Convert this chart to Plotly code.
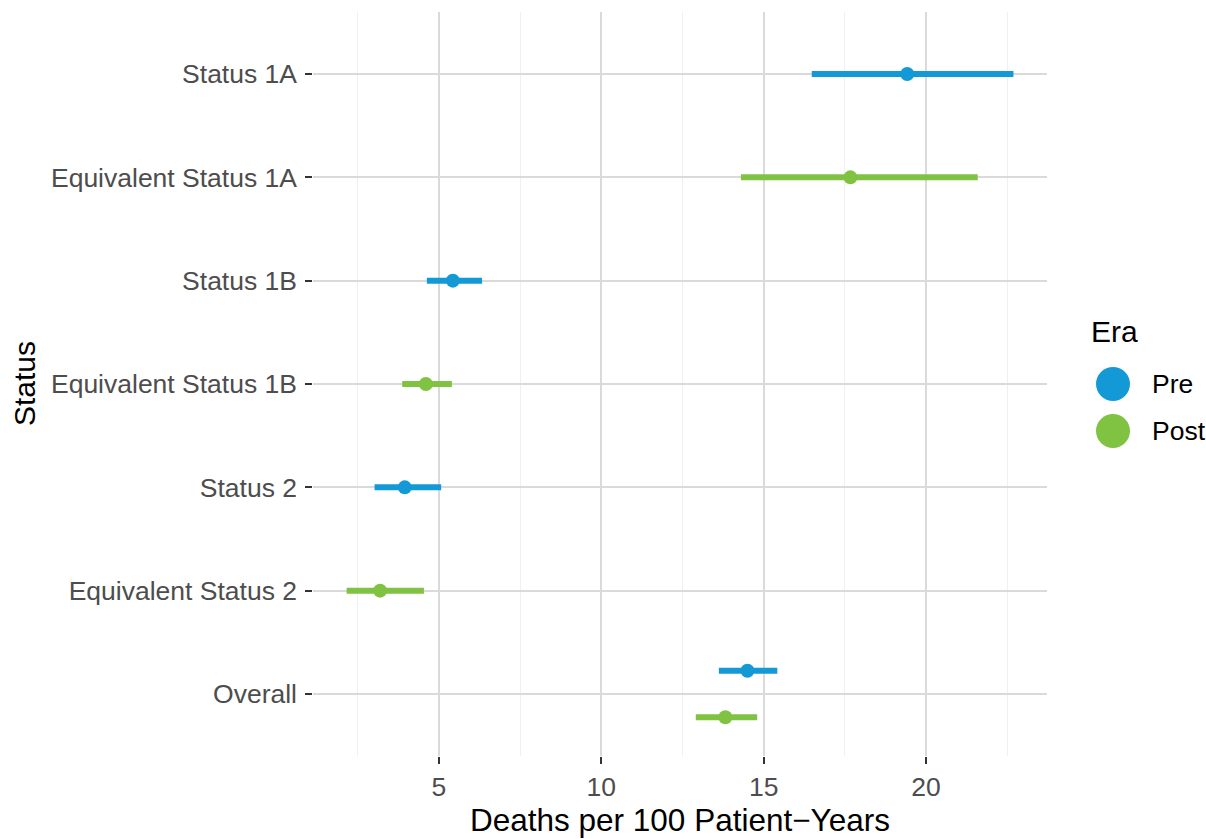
import plotly.graph_objects as go

# Mortality rates by listing status and era
status_order = ["Overall", "Equivalent Status 2", "Status 2", "Equivalent Status 1B",
                "Status 1B", "Equivalent Status 1A", "Status 1A"]

status = ["Status 1A", "Equivalent Status 1A", "Status 1B", "Equivalent Status 1B",
          "Status 2", "Equivalent Status 2", "Overall", "Overall"]
era = ["Pre", "Post", "Pre", "Post", "Pre", "Post", "Pre", "Post"]
rate = [19.42, 17.67, 5.43, 4.60, 3.95, 3.19, 14.50, 13.82]
lower = [16.48, 14.30, 4.63, 3.87, 3.02, 2.16, 13.62, 12.91]
upper = [22.69, 21.59, 6.33, 5.40, 5.07, 4.54, 15.42, 14.80]

eras = ["Pre", "Post"]
era_colors = {"Pre": "#139AD6", "Post": "#80C342"}
x_ticks = [5, 10, 15, 20]

FONT = "Liberation Sans, Arial, Helvetica, sans-serif"
W, H = 1206, 839
TICK_SIZE = 26.5
TITLE_SIZE = 31.5

# panel position in pixels
px_left, px_right, px_top, px_bottom = 313.3, 1046.8, 12, 756

# dodge only where a status holds both eras
dodge = 0.225
counts = {s: status.count(s) for s in status_order}

fig = go.Figure()
for e in eras:
    idx = [i for i, v in enumerate(era) if v == e]
    ys = []
    for i in idx:
        base = status_order.index(status[i]) + 1
        if counts[status[i]] > 1:
            base += dodge if e == "Pre" else -dodge
        ys.append(base)
    xs = [rate[i] for i in idx]
    fig.add_trace(go.Scatter(
        x=xs, y=ys, mode="markers", name=e, showlegend=False,
        marker=dict(size=14, color=era_colors[e], line=dict(width=0)),
        error_x=dict(type="data", symmetric=False,
                     array=[upper[i] - rate[i] for i in idx],
                     arrayminus=[rate[i] - lower[i] for i in idx],
                     color=era_colors[e], thickness=6, width=0),
        hovertemplate="%{x}<extra>" + e + "</extra>",
    ))

# legend keys on their own small axis
for e in eras:
    fig.add_trace(go.Scatter(
        x=[0], y=[e], xaxis="x2", yaxis="y2", mode="markers", showlegend=False,
        marker=dict(size=34, color=era_colors[e], line=dict(width=0)),
        error_y=dict(type="constant", value=0.39, color=era_colors[e],
                     thickness=3, width=0),
        hoverinfo="skip",
    ))

lo = min(lower)
hi = max(upper)
pad = (hi - lo) * 0.05

fig.update_layout(
    width=W, height=H,
    margin=dict(l=0, r=0, t=0, b=0),
    paper_bgcolor="white", plot_bgcolor="white",
    font=dict(family=FONT, color="#4D4D4D"),
    xaxis=dict(
        domain=[px_left / W, px_right / W],
        range=[lo - pad, hi + pad],
        tickvals=x_ticks, ticktext=[str(v) for v in x_ticks],
        showgrid=True, gridcolor="#DADADA", gridwidth=2,
        minor=dict(dtick=2.5, tick0=0, showgrid=True, gridcolor="#F0F0F0", gridwidth=1),
        zeroline=False, showline=False,
        ticks="outside", ticklen=7, tickwidth=2, tickcolor="#333333",
        tickfont=dict(size=TICK_SIZE, color="#4D4D4D", family=FONT),
        ticklabelstandoff=0,
        fixedrange=True,
    ),
    yaxis=dict(
        domain=[(H - px_bottom) / H, (H - px_top) / H],
        range=[0.4, len(status_order) + 0.6],
        tickvals=list(range(1, len(status_order) + 1)),
        ticktext=status_order,
        showgrid=True, gridcolor="#DADADA", gridwidth=2,
        zeroline=False, showline=False,
        ticks="outside", ticklen=7, tickwidth=2, tickcolor="#333333",
        tickfont=dict(size=TICK_SIZE, color="#4D4D4D", family=FONT),
        ticklabelstandoff=3,
        fixedrange=True,
    ),
    xaxis2=dict(domain=[1095 / W, 1131 / W], range=[-1, 1], visible=False,
                fixedrange=True),
    yaxis2=dict(domain=[(H - 454.5) / H, (H - 360.5) / H],
                type="category", categoryorder="array", categoryarray=["Post", "Pre"],
                range=[-0.5, 1.5], visible=False, fixedrange=True),
    showlegend=False,
    annotations=[
        dict(text="Deaths per 100 Patient\u2212Years", xref="paper", yref="paper",
             x=(px_left + px_right) / 2 / W, y=0, xanchor="center", yanchor="bottom",
             borderpad=0, showarrow=False,
             font=dict(size=TITLE_SIZE, color="black", family=FONT)),
        dict(text="Status", xref="paper", yref="paper", textangle=-90,
             x=24 / W, y=(H - 384) / H, xanchor="center", yanchor="middle",
             showarrow=False, font=dict(size=30, color="black", family=FONT)),
        dict(text="Era", xref="paper", yref="paper",
             x=1089 / W, y=(H - 331) / H, xanchor="left", yanchor="middle",
             showarrow=False, font=dict(size=30, color="black", family=FONT)),
    ] + [
        dict(text=e, xref="paper", yref="y2", x=1150 / W, y=e,
             xanchor="left", yanchor="middle", showarrow=False,
             font=dict(size=TICK_SIZE, color="black", family=FONT))
        for e in eras
    ],
)

fig.write_html("out.html")
